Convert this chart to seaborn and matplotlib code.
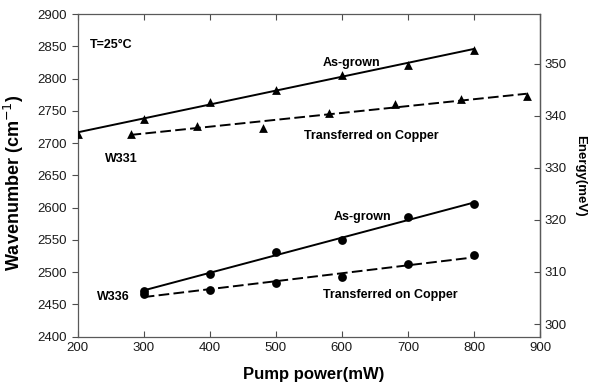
import numpy as np
import pandas as pd
import matplotlib
matplotlib.use("Agg")
import matplotlib.pyplot as plt
import seaborn as sns

# W331 (triangles)
w331_grown_power = [200, 300, 400, 500, 600, 700, 800]
w331_grown_wn = [2714, 2737, 2764, 2782, 2806, 2821, 2845]
w331_cu_power = [280, 380, 480, 580, 680, 780, 880]
w331_cu_wn = [2714, 2726, 2724, 2746, 2761, 2768, 2773]

# W336 (circles)
w336_grown_power = [300, 400, 500, 600, 700, 800]
w336_grown_wn = [2471, 2497, 2531, 2550, 2585, 2605]
w336_cu_power = [300, 400, 500, 600, 700, 800]
w336_cu_wn = [2466, 2473, 2483, 2492, 2512, 2527]

# cm^-1 -> meV
CM_TO_MEV = 0.123984


def wn_to_mev(w):
    return w * CM_TO_MEV


def mev_to_wn(e):
    return e / CM_TO_MEV


sns.set_style("ticks")
plt.rcParams['font.family'] = ['Liberation Sans', 'DejaVu Sans']
plt.rcParams['axes.edgecolor'] = '0.35'
plt.rcParams['axes.linewidth'] = 0.9
plt.rcParams['text.color'] = 'black'
plt.rcParams['axes.labelcolor'] = 'black'

fig = plt.figure(figsize=(5.99, 3.86), dpi=100)
ax = fig.add_axes([0.1297, 0.1277, 0.9015 - 0.1297, 0.9637 - 0.1277])

series = [
    (w331_grown_power, w331_grown_wn, '^', '-'),
    (w331_cu_power, w331_cu_wn, '^', '--'),
    (w336_grown_power, w336_grown_wn, 'o', '-'),
    (w336_cu_power, w336_cu_wn, 'o', '--'),
]

for px, wn, mk, ls in series:
    df = pd.DataFrame({'power': px, 'wn': wn})
    line_kws = {'color': 'black', 'lw': 1.4, 'linestyle': ls}
    if ls == '--':
        line_kws['dashes'] = (5.5, 2.2)
    sns.regplot(data=df, x='power', y='wn', ax=ax, ci=None, truncate=True,
                marker=mk, color='black',
                scatter_kws={'s': 40, 'color': 'black', 'alpha': 1,
                             'linewidths': 0, 'zorder': 3},
                line_kws=line_kws)

ax.set_xlim(200, 900)
ax.set_ylim(2400, 2900)
ax.set_xticks(np.arange(200, 901, 100))
ax.set_yticks(np.arange(2400, 2901, 50))
ax.tick_params(axis='x', direction='in', top=True, length=4, width=0.8,
               labelsize=9.5, color='0.3', labelcolor='0.1')
ax.tick_params(axis='y', direction='out', right=False, length=4, width=0.8,
               labelsize=9.5, color='0.3', labelcolor='0.1')

ax.set_xlabel('Pump power(mW)', fontsize=12, fontweight='bold')
ax.set_ylabel('Wavenumber (cm$^{-1}$)', fontsize=13, fontweight='bold')
ax.xaxis.set_label_coords(0.511, -0.094)
ax.yaxis.set_label_coords(-0.112, 0.476)

sec = ax.secondary_yaxis('right', functions=(wn_to_mev, mev_to_wn))
sec.set_yticks(np.arange(300, 351, 10))
sec.tick_params(direction='in', length=4, width=0.8, labelsize=9.5,
                color='0.3', labelcolor='0.1')
sec.set_ylabel('Energy(meV)', fontsize=9.5, fontweight='bold', rotation=270,
               labelpad=14)

txt = {'fontsize': 9, 'fontweight': 'bold', 'va': 'center', 'ha': 'left'}
ax.text(218, 2852, 'T=25°C', **txt)
ax.text(571, 2824, 'As-grown', **txt)
ax.text(542, 2711, 'Transferred on Copper', **txt)
ax.text(241, 2676, 'W331', **txt)
ax.text(229, 2462, 'W336', **txt)
ax.text(587, 2586, 'As-grown', **txt)
ax.text(572, 2465, 'Transferred on Copper', **txt)

fig.savefig('out.png', dpi=100)
